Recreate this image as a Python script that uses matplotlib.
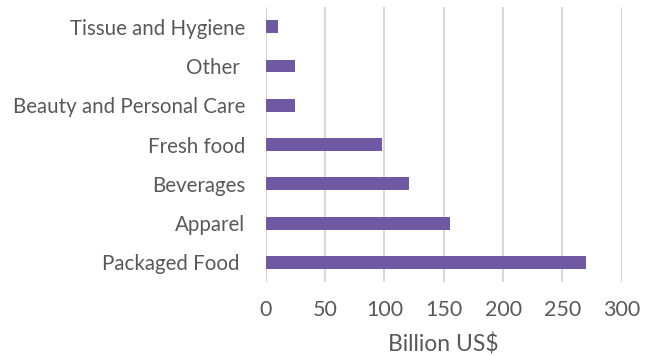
import matplotlib.pyplot as plt

# Market size by category, top to bottom
categories = ['Tissue and Hygiene', 'Other ', 'Beauty and Personal Care',
              'Fresh food', 'Beverages', 'Apparel', 'Packaged Food ']
values = [10, 25, 25, 98, 121, 155, 270]
xticks = [0, 50, 100, 150, 200, 250, 300]

plt.rcParams['font.family'] = ['Lato', 'DejaVu Sans']

fig = plt.figure(figsize=(6.45, 3.56), dpi=100)
ax = fig.add_axes([0.412, 0.208, 0.552, 0.772])

ypos = list(range(len(categories)))[::-1]
ax.barh(ypos, values, height=0.33, color='#6f59a3', zorder=3)

ax.set_xlim(0, 300)
ax.set_ylim(-0.5, len(categories) - 0.5)
ax.set_xticks(xticks)
ax.set_yticks(ypos)
ax.set_yticklabels(categories)
ax.grid(axis='x', color='#d9d9d9', linewidth=1.5, zorder=0)
for s in ax.spines.values():
    s.set_visible(False)
ax.tick_params(axis='y', length=0, labelsize=14.8, labelcolor='#595959', pad=15)
ax.tick_params(axis='x', length=0, labelsize=15.5, labelcolor='#595959', pad=13)
ax.set_xlabel('Billion US$', fontsize=16.5, color='#595959', labelpad=10)

fig.savefig('out.png', dpi=100)
